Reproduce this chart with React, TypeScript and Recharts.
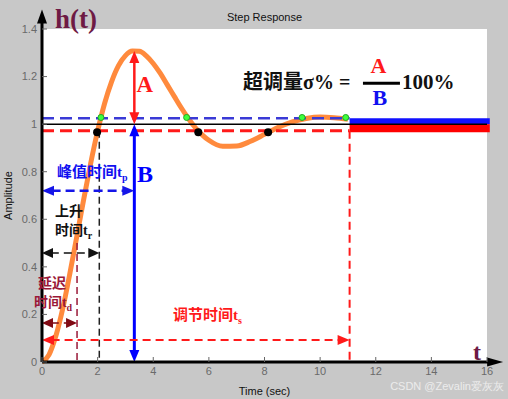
import React from "react";
import {
  ComposedChart,
  Line,
  Scatter,
  XAxis,
  YAxis,
  CartesianGrid,
  ReferenceLine,
  ReferenceArea,
  ReferenceDot,
} from "recharts";

// step response
const timeTicks = [0, 2, 4, 6, 8, 10, 12, 14, 16];
const ampTicks = [0, 0.2, 0.4, 0.6, 0.8, 1, 1.2, 1.4];

const response = [
  { t: 0, y: 0 },
  { t: 0.25, y: 0.03 },
  { t: 0.5, y: 0.11 },
  { t: 0.75, y: 0.227 },
  { t: 1, y: 0.371 },
  { t: 1.25, y: 0.527 },
  { t: 1.5, y: 0.684 },
  { t: 1.75, y: 0.835 },
  { t: 2, y: 0.971 },
  { t: 2.25, y: 1.087 },
  { t: 2.5, y: 1.178 },
  { t: 2.75, y: 1.246 },
  { t: 3, y: 1.288 },
  { t: 3.25, y: 1.307 },
  { t: 3.5, y: 1.306 },
  { t: 3.75, y: 1.287 },
  { t: 4, y: 1.255 },
  { t: 4.25, y: 1.214 },
  { t: 4.5, y: 1.166 },
  { t: 4.75, y: 1.118 },
  { t: 5, y: 1.07 },
  { t: 5.25, y: 1.026 },
  { t: 5.5, y: 0.987 },
  { t: 5.75, y: 0.956 },
  { t: 6, y: 0.932 },
  { t: 6.5, y: 0.907 },
  { t: 7, y: 0.908 },
  { t: 7.5, y: 0.928 },
  { t: 8, y: 0.957 },
  { t: 8.5, y: 0.987 },
  { t: 9, y: 1.01 },
  { t: 9.5, y: 1.024 },
  { t: 10, y: 1.03 },
  { t: 10.5, y: 1.027 },
  { t: 11, y: 1.02 },
];

const upperHits = [
  { t: 2.12, y: 1.028 },
  { t: 5.2, y: 1.028 },
  { t: 9.35, y: 1.028 },
  { t: 10.92, y: 1.028 },
];
const lowerHits = [
  { t: 1.98, y: 0.966 },
  { t: 5.62, y: 0.966 },
  { t: 8.13, y: 0.966 },
];

const peakTime = 3.32;
const peakValue = 1.308;
const riseTime = 2.06;
const delayTime = 1.26;
const settleTime = 11.06;
const upperBand = 1.025;
const lowerBand = 0.972;

const SANS = "'Liberation Sans', Arial, sans-serif";
const SERIF = "'Liberation Serif', 'Times New Roman', serif";
const CJK = "'Noto Sans CJK SC', sans-serif";

const RED = "#ff1a1a";
const BLUE = "#1010f0";
const MAROON = "#9a1838";
const HT = "#6e1a44";

function head(x: number, y: number, ux: number, uy: number, len: number, half: number, color: string) {
  const bx = x - ux * len;
  const by = y - uy * len;
  const pts = `${x},${y} ${bx - uy * half},${by + ux * half} ${bx + uy * half},${by - ux * half}`;
  return <polygon points={pts} fill={color} />;
}

const arrow =
  (color: string, width: number, dash: string | undefined, both: boolean, len = 11, half = 5) =>
  (p: any) => {
    const { x1, y1, x2, y2 } = p;
    const d = Math.hypot(x2 - x1, y2 - y1) || 1;
    const ux = (x2 - x1) / d;
    const uy = (y2 - y1) / d;
    const sx = both ? x1 + ux * len * 0.8 : x1;
    const sy = both ? y1 + uy * len * 0.8 : y1;
    return (
      <g>
        <line
          x1={sx}
          y1={sy}
          x2={x2 - ux * len * 0.8}
          y2={y2 - uy * len * 0.8}
          stroke={color}
          strokeWidth={width}
          strokeDasharray={dash}
        />
        {head(x2, y2, ux, uy, len, half, color)}
        {both && head(x1, y1, -ux, -uy, len, half, color)}
      </g>
    );
  };

const textAt = (node: React.ReactNode, style: React.SVGProps<SVGTextElement>) => (p: any) =>
  (
    <text x={p.cx} y={p.cy} {...style}>
      {node}
    </text>
  );

const LeftTick = (p: any) => (
  <g>
    <line x1={p.x + 5} x2={p.x + 10} y1={p.y} y2={p.y} stroke="#666" />
    <text x={p.x} y={p.y} dy="0.35em" textAnchor="end" fontSize={11} fill="#6a6a6a" fontFamily={SANS}>
      {p.payload.value}
    </text>
  </g>
);

const BottomTick = (p: any) => (
  <g>
    <line x1={p.x} x2={p.x} y1={p.y - 5} y2={p.y - 10} stroke="#666" />
    <text x={p.x} y={p.y} dy="0.71em" textAnchor="middle" fontSize={11} fill="#6a6a6a" fontFamily={SANS}>
      {p.payload.value}
    </text>
  </g>
);

const TopTick = (p: any) => <line x1={p.x} x2={p.x} y1={p.y} y2={p.y + 5} stroke="#666" />;
const RightTick = (p: any) => <line x1={p.x} x2={p.x - 5} y1={p.y} y2={p.y} stroke="#666" />;

const sub = (letter: string) => (
  <>
    <tspan fontFamily={SERIF}>t</tspan>
    <tspan fontFamily={SERIF} fontSize={10} dy={4}>
      {letter}
    </tspan>
  </>
);

const cjkStyle = (fill: string, size: number) => ({
  fill,
  fontSize: size,
  fontWeight: 700,
  fontFamily: CJK,
});

export default function App() {
  return (
    <div style={{ position: "absolute", left: 0, top: 0, width: 508, height: 399, background: "#c8c8c8" }}>
      <ComposedChart
        width={508}
        height={399}
        margin={{ top: 29, right: 21, left: 0, bottom: 0 }}
      >
        <CartesianGrid fill="#ffffff" stroke="none" />
        <XAxis
          type="number"
          dataKey="t"
          domain={[0, 16]}
          ticks={timeTicks}
          height={37}
          axisLine={false}
          tickLine={false}
          tickSize={0}
          tickMargin={5}
          tick={<BottomTick />}
          label={{ value: "Time (sec)", position: "insideBottom", offset: 4, fontSize: 11, fill: "#111", fontFamily: SANS }}
        />
        <XAxis
          xAxisId="top"
          orientation="top"
          type="number"
          domain={[0, 16]}
          ticks={timeTicks}
          height={0}
          axisLine={{ stroke: "#777" }}
          tickLine={false}
          tickSize={0}
          tickMargin={0}
          tick={<TopTick />}
        />
        <YAxis
          type="number"
          domain={[0, 1.4]}
          ticks={ampTicks}
          width={42}
          axisLine={false}
          tickLine={false}
          tickSize={0}
          tickMargin={5}
          tick={<LeftTick />}
          label={{
            value: "Amplitude",
            angle: -90,
            position: "insideLeft",
            offset: 8,
            fontSize: 11,
            fill: "#111",
            fontFamily: SANS,
            style: { textAnchor: "middle" },
          }}
        />
        <YAxis
          yAxisId="right"
          orientation="right"
          type="number"
          domain={[0, 1.4]}
          ticks={ampTicks}
          width={0}
          axisLine={{ stroke: "#777" }}
          tickLine={false}
          tickSize={0}
          tickMargin={0}
          tick={<RightTick />}
        />

        {/* settling band */}
        <ReferenceArea x1={settleTime} x2={16.1} y1={1} y2={upperBand} fill="#1010ff" fillOpacity={1} stroke="none" ifOverflow="visible" />
        <ReferenceArea x1={settleTime} x2={16.1} y1={0.966} y2={1} fill="#ff0000" fillOpacity={1} stroke="none" ifOverflow="visible" />

        <Line
          data={response}
          dataKey="y"
          type="monotone"
          stroke="#ff8a3d"
          strokeWidth={5}
          dot={false}
          isAnimationActive={false}
        />

        <ReferenceLine segment={[{ x: 0, y: 1 }, { x: 16, y: 1 }]} stroke="#000" strokeWidth={1.5} ifOverflow="visible" />
        <ReferenceLine segment={[{ x: 0, y: upperBand }, { x: settleTime, y: upperBand }]} stroke="#3a3ad6" strokeWidth={2.5} strokeDasharray="12 6" />
        <ReferenceLine segment={[{ x: 0, y: lowerBand }, { x: settleTime, y: lowerBand }]} stroke={RED} strokeWidth={3} strokeDasharray="12 6" />

        <ReferenceLine segment={[{ x: riseTime, y: lowerBand }, { x: riseTime, y: 0 }]} stroke="#222" strokeWidth={1.5} strokeDasharray="7 4" />
        <ReferenceLine segment={[{ x: delayTime, y: 0.5 }, { x: delayTime, y: 0 }]} stroke={MAROON} strokeWidth={1.5} strokeDasharray="7 4" />
        <ReferenceLine segment={[{ x: settleTime, y: lowerBand }, { x: settleTime, y: 0 }]} stroke={RED} strokeWidth={2} strokeDasharray="8 5" />

        <ReferenceLine segment={[{ x: peakTime, y: peakValue }, { x: peakTime, y: 1 }]} shape={arrow(RED, 2.5, undefined, true, 12, 5)} />
        <ReferenceLine segment={[{ x: peakTime, y: 1 }, { x: peakTime, y: 0 }]} shape={arrow("#0000ff", 3, undefined, true, 12, 5)} />
        <ReferenceLine segment={[{ x: 0, y: 0.72 }, { x: peakTime, y: 0.72 }]} shape={arrow("#1515e8", 2.5, "9 5", true, 12, 5)} />
        <ReferenceLine segment={[{ x: 0, y: 0.458 }, { x: riseTime, y: 0.458 }]} shape={arrow("#111", 1.5, "8 5", true, 11, 5)} />
        <ReferenceLine segment={[{ x: 0, y: 0.164 }, { x: delayTime, y: 0.164 }]} shape={arrow("#800a14", 1.5, "8 5", true, 11, 5)} />
        <ReferenceLine segment={[{ x: 0, y: 0.092 }, { x: settleTime, y: 0.092 }]} shape={arrow(RED, 2, "8 5", true, 12, 5)} />

        {/* fraction bar */}
        <ReferenceLine segment={[{ x: 11.54, y: 1.172 }, { x: 12.87, y: 1.172 }]} stroke="#000" strokeWidth={3} />

        {/* axes with arrowheads */}
        <ReferenceLine segment={[{ x: 0, y: 0 }, { x: 0, y: 1.482 }]} shape={arrow("#000", 3, undefined, false, 14, 5)} ifOverflow="visible" />
        <ReferenceLine segment={[{ x: 0, y: 0 }, { x: 16.58, y: 0 }]} shape={arrow("#000", 3, undefined, false, 16, 4.5)} ifOverflow="visible" />

        <Scatter
          data={lowerHits}
          dataKey="y"
          isAnimationActive={false}
          shape={(p: any) => <circle cx={p.cx} cy={p.cy} r={4} fill="#000" />}
        />
        <Scatter
          data={upperHits}
          dataKey="y"
          isAnimationActive={false}
          shape={(p: any) => <circle cx={p.cx} cy={p.cy} r={3} fill="#3dff3d" stroke="#22aa22" strokeWidth={1} />}
        />

        {/* annotations */}
        <ReferenceDot x={0.47} y={1.403} r={0} ifOverflow="visible"
          shape={textAt("h(t)", { fill: HT, fontSize: 27, fontWeight: 700, fontFamily: SERIF })} />
        <ReferenceDot x={15.5} y={0.01} r={0} ifOverflow="visible"
          shape={textAt("t", { fill: HT, fontSize: 24, fontWeight: 700, fontFamily: SERIF })} />
        <ReferenceDot x={3.4} y={1.134} r={0} ifOverflow="visible"
          shape={textAt("A", { fill: RED, fontSize: 23, fontWeight: 700, fontFamily: SERIF })} />
        <ReferenceDot x={3.42} y={0.756} r={0} ifOverflow="visible"
          shape={textAt("B", { fill: "#0000ff", fontSize: 24, fontWeight: 700, fontFamily: SERIF })} />
        <ReferenceDot x={0.54} y={0.778} r={0} ifOverflow="visible"
          shape={textAt(<>峰值时间{sub("p")}</>, cjkStyle(BLUE, 15))} />
        <ReferenceDot x={0.47} y={0.612} r={0} ifOverflow="visible"
          shape={textAt("上升", cjkStyle("#111", 14))} />
        <ReferenceDot x={0.47} y={0.534} r={0} ifOverflow="visible"
          shape={textAt(<>时间{sub("r")}</>, cjkStyle("#111", 14))} />
        <ReferenceDot x={-0.14} y={0.311} r={0} ifOverflow="visible"
          shape={textAt("延迟", cjkStyle(MAROON, 14))} />
        <ReferenceDot x={-0.29} y={0.231} r={0} ifOverflow="visible"
          shape={textAt(<>时间{sub("d")}</>, cjkStyle(MAROON, 14))} />
        <ReferenceDot x={4.71} y={0.176} r={0} ifOverflow="visible"
          shape={textAt(<>调节时间{sub("s")}</>, cjkStyle(RED, 15))} />
        <ReferenceDot x={7.23} y={1.147} r={0} ifOverflow="visible"
          shape={textAt(
            <>
              超调量<tspan fontFamily={SERIF}>σ% =</tspan>
            </>,
            cjkStyle("#111", 20)
          )} />
        <ReferenceDot x={12.1} y={1.214} r={0} ifOverflow="visible"
          shape={textAt("A", { fill: RED, fontSize: 22, fontWeight: 700, fontFamily: SERIF, textAnchor: "middle" })} />
        <ReferenceDot x={12.15} y={1.08} r={0} ifOverflow="visible"
          shape={textAt("B", { fill: BLUE, fontSize: 22, fontWeight: 700, fontFamily: SERIF, textAnchor: "middle" })} />
        <ReferenceDot x={12.94} y={1.147} r={0} ifOverflow="visible"
          shape={textAt("100%", { fill: "#111", fontSize: 21, fontWeight: 700, fontFamily: SERIF })} />
      </ComposedChart>

      <div
        style={{
          position: "absolute",
          left: 0,
          width: 529,
          top: 11,
          textAlign: "center",
          fontSize: 11,
          fontFamily: SANS,
          color: "#111",
        }}
      >
        Step Response
      </div>
      <div
        style={{
          position: "absolute",
          right: 4,
          top: 379,
          fontSize: 11,
          fontFamily: SANS,
          color: "#ececec",
        }}
      >
        CSDN @Zevalin爱灰灰
      </div>
    </div>
  );
}
